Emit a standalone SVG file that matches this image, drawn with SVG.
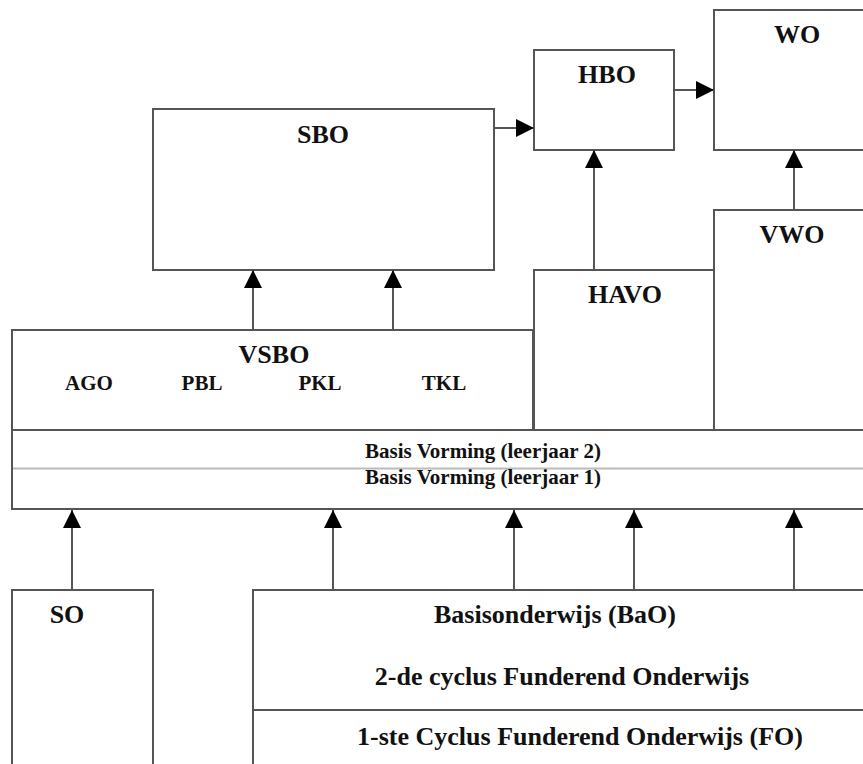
<svg xmlns="http://www.w3.org/2000/svg" width="863" height="764" viewBox="0 0 863 764">
<style>
.box{fill:#fff;stroke:#555;stroke-width:2}
.t{font-family:"Liberation Serif","Times New Roman",serif;font-weight:bold;fill:#111;text-anchor:middle}
.big{font-size:26px}
.sm{font-size:21px}
.con{stroke:#555;stroke-width:2;fill:none;marker-end:url(#ah)}
</style>
<defs>
<marker id="ah" markerUnits="userSpaceOnUse" markerWidth="18" markerHeight="18" viewBox="0 0 16 16" refX="16" refY="8" orient="auto">
<path d="M0,0 L16,8 L0,16 Z" fill="#000"/>
</marker>
</defs>
<rect width="863" height="764" fill="#fff"/>
<g id="SBO"><rect class="box" x="153" y="109" width="341" height="161"/><text class="t big" x="323" y="143">SBO</text></g>
<g id="HBO"><rect class="box" x="534" y="50" width="140" height="100"/><text class="t big" x="607" y="83">HBO</text></g>
<g id="WO"><rect class="box" x="714" y="10" width="160" height="140"/><text class="t big" x="797" y="43">WO</text></g>
<g id="VWO"><rect class="box" x="714" y="210" width="160" height="220"/><text class="t big" x="792" y="243">VWO</text></g>
<g id="HAVO"><rect class="box" x="534" y="270" width="180" height="160"/><text class="t big" x="625" y="303">HAVO</text></g>
<g id="VSBO"><rect class="box" x="12" y="330" width="521" height="100"/><text class="t big" x="274" y="363">VSBO</text>
<text class="t sm" x="89" y="390">AGO</text><text class="t sm" x="202" y="390">PBL</text><text class="t sm" x="320" y="390">PKL</text><text class="t sm" x="444" y="390">TKL</text></g>
<g id="BasisVorming"><rect class="box" x="12" y="430" width="870" height="79"/>
<line x1="13" y1="468.5" x2="863" y2="468.5" stroke="#bbb" stroke-width="2"/>
<text class="t sm" x="483" y="458">Basis Vorming (leerjaar 2)</text>
<text class="t sm" x="483" y="484">Basis Vorming (leerjaar 1)</text></g>
<g id="SO"><rect class="box" x="12" y="590" width="141" height="190"/><text class="t big" x="67" y="623">SO</text></g>
<g id="BaO"><rect class="box" x="253" y="590" width="630" height="120"/><text class="t big" x="555" y="623">Basisonderwijs (BaO)</text><text class="t big" x="562" y="685">2-de cyclus Funderend Onderwijs</text></g>
<g id="FO"><rect class="box" x="253" y="710" width="630" height="70"/><text class="t big" x="580" y="745">1-ste Cyclus Funderend Onderwijs (FO)</text></g>
<g id="connectors">
<line class="con" x1="494" y1="128" x2="534" y2="128"/>
<line class="con" x1="674" y1="90" x2="714" y2="90"/>
<line class="con" x1="594" y1="270" x2="594" y2="150"/>
<line class="con" x1="794" y1="210" x2="794" y2="150"/>
<line class="con" x1="253" y1="330" x2="253" y2="270"/>
<line class="con" x1="393" y1="330" x2="393" y2="270"/>
<line class="con" x1="72" y1="590" x2="72" y2="510"/>
<line class="con" x1="333" y1="590" x2="333" y2="510"/>
<line class="con" x1="514" y1="590" x2="514" y2="510"/>
<line class="con" x1="634" y1="590" x2="634" y2="510"/>
<line class="con" x1="794" y1="590" x2="794" y2="510"/>
</g>
</svg>
